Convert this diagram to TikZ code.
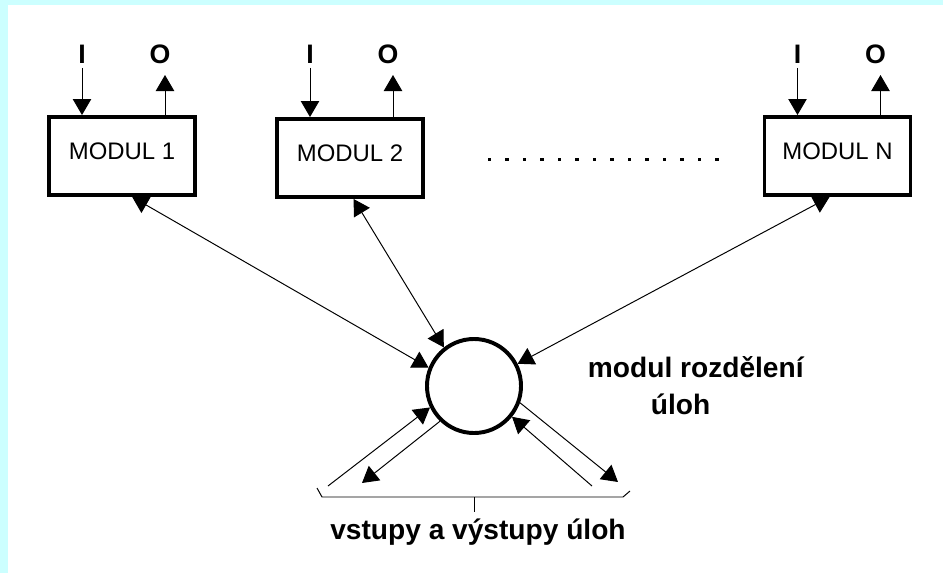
\documentclass[tikz,border=0pt]{standalone}
\usepackage{fontspec}
\setmainfont{Liberation Sans}
\usetikzlibrary{arrows.meta}
\definecolor{frameCyan}{RGB}{204,255,255}
\tikzset{
  modul/.style={draw,rectangle,line width=2.8pt,minimum width=3.65cm,minimum height=1.95cm,inner sep=0pt},
  hub/.style={draw,circle,line width=2.8pt,minimum size=2.35cm,inner sep=0pt},
  link/.style={line width=0.7pt,-{Triangle[length=0.4cm,width=0.46cm]}},
  biLink/.style={line width=0.7pt,{Triangle[length=0.4cm,width=0.46cm]}-{Triangle[length=0.4cm,width=0.46cm]}},
  ioText/.style={font=\fontsize{19}{22}\selectfont\bfseries,anchor=base},
  capText/.style={font=\fontsize{20}{26}\selectfont\bfseries,anchor=base}
}
\begin{document}
\begin{tikzpicture}[x=0.025cm,y=-0.025cm,
  every node/.style={font=\fontsize{17}{20}\selectfont}]
% frame
\fill[frameCyan] (0,0) rectangle (943,573);
\fill[white] (8,5) rectangle (943,573);
% modules with their inputs and outputs
\foreach \n/\cx/\cy in {1/122/156,2/350/158,N/837.5/156} {
  \node[modul] (m\n) at (\cx,\cy) {};
  \node[anchor=base] (t\n) at (\cx,\cy+3.5) {MODUL \n};
  \node[ioText] (i\n) at (\cx-40,63) {I};
  \node[ioText] (o\n) at (\cx+38,63) {O};
  \coordinate (oa\n) at (\cx+43,75);
  \draw[link] (i\n.south) -- (m\n.north -| i\n);
  \draw[link] (m\n.north -| oa\n) -- (oa\n);
}
% dots between module 2 and module N
\foreach \k in {0,...,13}
  \fill (487.5+\k*17.5,157.5) rectangle +(3.5,3.5);
% task distribution module
\node[hub] (hub) at (474,386) {};
\node[capText,anchor=base west] (hubLabel) at (583,377) {modul rozdělení};
\node[capText,anchor=base west] (hubLabel2) at (646,414) {úloh};
\draw[biLink] (m1.-76) -- (hub.158);
\draw[biLink] (m2.-85) -- (hub.128);
\draw[biLink] (mN.-101) -- (hub.27);
% task inputs and outputs
\coordinate (inL) at (328,486);
\coordinate (outL) at (362,483);
\coordinate (inR) at (592,486);
\coordinate (outR) at (618,482);
\draw[link] (inL) -- (hub.206);
\draw[link] (hub.226) -- (outL);
\draw[link] (inR) -- (hub.-39);
\draw[link] (hub.-20) -- (outR);
\draw[line width=0.7pt] (317,488) -- (322,497) -- (623,497) -- (630,491);
\coordinate (braceMid) at (474,497);
\node[capText] (ioLabel) at (478,539) {vstupy a výstupy úloh};
\draw[line width=0.7pt] (braceMid) -- ++(0,15);
\end{tikzpicture}
\end{document}
